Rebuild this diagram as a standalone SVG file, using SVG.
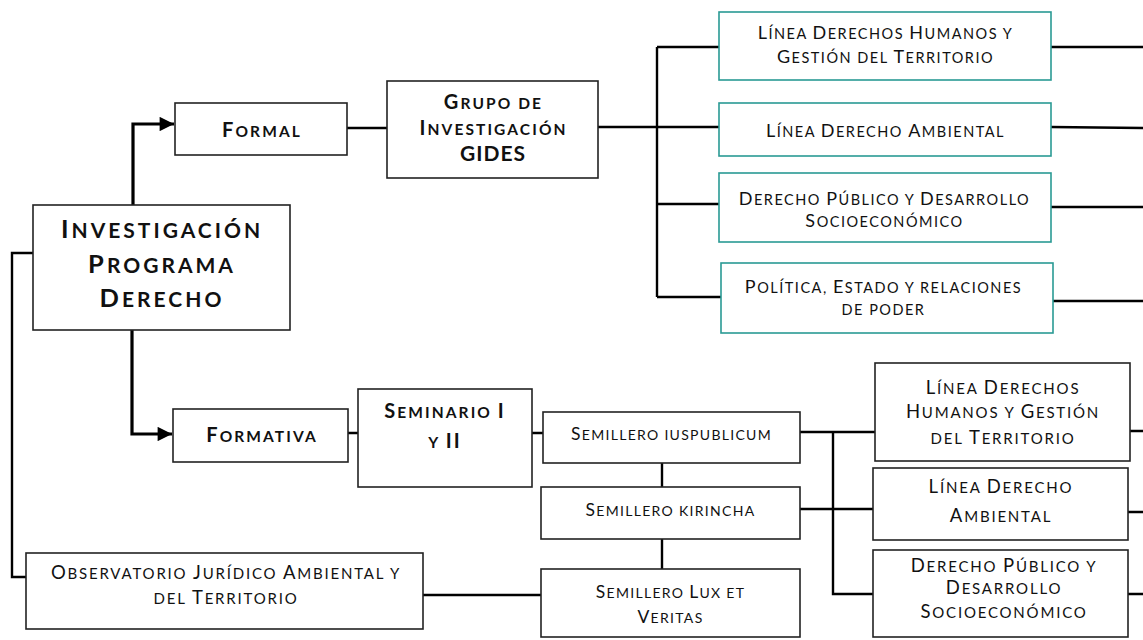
<svg xmlns="http://www.w3.org/2000/svg" width="1143" height="640" viewBox="0 0 1143 640">
<defs>
<style>
text{font-family:Lato,"Open Sans","DejaVu Sans",sans-serif;fill:#111;text-anchor:middle}
.t{font-size:14.5px;letter-spacing:1.5px}
.t .C{font-size:18px}
.s{font-size:14px;letter-spacing:1.3px}
.s .C{font-size:17.5px}
.w{font-size:15px;letter-spacing:1.8px}
.w .C{font-size:18.5px}
.b{font-weight:bold;font-size:15.5px;letter-spacing:2.1px}
.b .C{font-size:20px}
.b .G{font-size:21px;letter-spacing:1px}
.h{font-weight:bold;font-size:21px;letter-spacing:3px}
.h .C{font-size:25.5px}
.box{fill:#fff;stroke:#222;stroke-width:1.6}
.teal{fill:#fff;stroke:#2a9a94;stroke-width:1.6}
.c{fill:none;stroke:#000;stroke-width:2.4}
.k{fill:none;stroke:#000;stroke-width:3.2}
</style>
<marker id="ar" viewBox="0 0 10 10" refX="10" refY="5" markerWidth="5" markerHeight="4.5" markerUnits="strokeWidth" orient="auto"><path d="M0,0L10,5L0,10z" fill="#000"/></marker>
</defs>
<rect width="1143" height="640" fill="#fff"/>
<g id="connectors">
<path class="k" d="M133,205V124H174" marker-end="url(#ar)"/>
<path class="k" d="M132,330V434H172" marker-end="url(#ar)"/>
<path class="c" d="M33,253H12V577H26"/>
<path class="c" d="M347,128H387"/>
<path class="c" d="M598,127H725"/>
<path class="c" d="M657,47V297"/>
<path class="c" d="M657,47H723M657,204H723M657,297H723"/>
<path class="c" d="M1051,47H1143M1051,127L1143,128M1051,207H1143M1053,301H1143"/>
<path class="c" d="M346,433H360M532,433H543"/>
<path class="c" d="M662,463V487M662,539V569"/>
<path class="c" d="M800,432H875M833,432V594H873M800,509H873"/>
<path class="c" d="M423,595H542"/>
<path class="c" d="M1130,431H1143M1128,512H1143M1128,594H1143"/>
</g>
<g id="investigacion">
<rect class="box" x="33" y="205" width="257" height="125"/>
<text class="h" x="162" y="238"><tspan class="C">I</tspan>NVESTIGACIÓN</text>
<text class="h" x="162" y="273"><tspan class="C">P</tspan>ROGRAMA</text>
<text class="h" x="162" y="307"><tspan class="C">D</tspan>ERECHO</text>
</g>
<g id="formal">
<rect class="box" x="175" y="103" width="172" height="52"/>
<text class="b" x="262" y="137"><tspan class="C">F</tspan>ORMAL</text>
</g>
<g id="gides">
<rect class="box" x="387" y="81" width="211" height="97"/>
<text class="b" x="493.5" y="109"><tspan class="C">G</tspan>RUPO DE</text>
<text class="b" x="493.5" y="135"><tspan class="C">I</tspan>NVESTIGACIÓN</text>
<text class="b" x="493" y="161"><tspan class="G">GIDES</tspan></text>
</g>
<g id="linea-dh">
<rect class="teal" x="719" y="12" width="332" height="68"/>
<text class="t" x="885.5" y="39"><tspan class="C">L</tspan>ÍNEA <tspan class="C">D</tspan>ERECHOS <tspan class="C">H</tspan>UMANOS Y</text>
<text class="t" x="885.5" y="63"><tspan class="C">G</tspan>ESTIÓN DEL <tspan class="C">T</tspan>ERRITORIO</text>
</g>
<g id="linea-da">
<rect class="teal" x="719" y="103" width="332" height="53"/>
<text class="t" x="885.5" y="137"><tspan class="C">L</tspan>ÍNEA <tspan class="C">D</tspan>ERECHO <tspan class="C">A</tspan>MBIENTAL</text>
</g>
<g id="derecho-publico">
<rect class="teal" x="719" y="173" width="332" height="69"/>
<text class="t" x="884.5" y="205"><tspan class="C">D</tspan>ERECHO <tspan class="C">P</tspan>ÚBLICO Y <tspan class="C">D</tspan>ESARROLLO</text>
<text class="t" x="884.5" y="227"><tspan class="C">S</tspan>OCIOECONÓMICO</text>
</g>
<g id="politica">
<rect class="teal" x="721" y="263" width="332" height="70"/>
<text class="t" x="883.5" y="293"><tspan class="C">P</tspan>OLÍTICA, <tspan class="C">E</tspan>STADO Y RELACIONES</text>
<text class="t" x="883.5" y="315">DE PODER</text>
</g>
<g id="formativa">
<rect class="box" x="173" y="409" width="175" height="53"/>
<text class="b" x="262" y="442"><tspan class="C">F</tspan>ORMATIVA</text>
</g>
<g id="seminario">
<rect class="box" x="358" y="389" width="174" height="98"/>
<text class="b" x="445" y="418"><tspan class="C">S</tspan>EMINARIO <tspan class="C">I</tspan></text>
<text class="b" x="445" y="448">Y <tspan class="C">II</tspan></text>
</g>
<g id="iuspublicum">
<rect class="box" x="543" y="412" width="257" height="51"/>
<text class="s" x="671.5" y="440"><tspan class="C">S</tspan>EMILLERO IUSPUBLICUM</text>
</g>
<g id="kirincha">
<rect class="box" x="541" y="487" width="259" height="52"/>
<text class="s" x="670.5" y="516"><tspan class="C">S</tspan>EMILLERO KIRINCHA</text>
</g>
<g id="lux">
<rect class="box" x="541" y="569" width="259" height="68"/>
<text class="s" x="670.5" y="598"><tspan class="C">S</tspan>EMILLERO <tspan class="C">L</tspan>UX ET</text>
<text class="s" x="670.5" y="623"><tspan class="C">V</tspan>ERITAS</text>
</g>
<g id="linea-dh-2">
<rect class="box" x="875" y="363" width="255" height="98"/>
<text class="w" x="1003" y="394"><tspan class="C">L</tspan>ÍNEA <tspan class="C">D</tspan>ERECHOS</text>
<text class="w" x="1003" y="418"><tspan class="C">H</tspan>UMANOS Y <tspan class="C">G</tspan>ESTIÓN</text>
<text class="w" x="1003" y="444">DEL <tspan class="C">T</tspan>ERRITORIO</text>
</g>
<g id="linea-da-2">
<rect class="box" x="873" y="468" width="255" height="72"/>
<text class="w" x="1001" y="493"><tspan class="C">L</tspan>ÍNEA <tspan class="C">D</tspan>ERECHO</text>
<text class="w" x="1001" y="522"><tspan class="C">A</tspan>MBIENTAL</text>
</g>
<g id="derecho-publico-2">
<rect class="box" x="873" y="550" width="255" height="87"/>
<text class="w" x="1004" y="572"><tspan class="C">D</tspan>ERECHO <tspan class="C">P</tspan>ÚBLICO Y</text>
<text class="w" x="1004" y="594"><tspan class="C">D</tspan>ESARROLLO</text>
<text class="w" x="1004" y="618"><tspan class="C">S</tspan>OCIOECONÓMICO</text>
</g>
<g id="observatorio">
<rect class="box" x="26" y="553" width="397" height="76"/>
<text class="w" x="226" y="579"><tspan class="C">O</tspan>BSERVATORIO <tspan class="C">J</tspan>URÍDICO <tspan class="C">A</tspan>MBIENTAL Y</text>
<text class="w" x="226" y="604">DEL <tspan class="C">T</tspan>ERRITORIO</text>
</g>
</svg>
